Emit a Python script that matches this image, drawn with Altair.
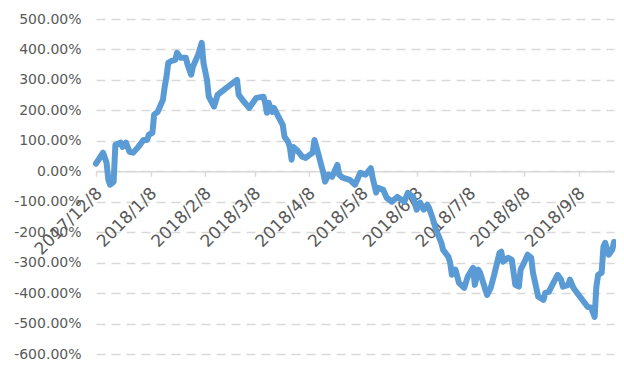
import altair as alt
import pandas as pd

dates = [
    "2017-12-08", "2017-12-12", "2017-12-14", "2017-12-15", "2017-12-16", "2017-12-18",
    "2017-12-19", "2017-12-22", "2017-12-23", "2017-12-25", "2017-12-27", "2017-12-29",
    "2018-01-01", "2018-01-04", "2018-01-06", "2018-01-07", "2018-01-09", "2018-01-10",
    "2018-01-12", "2018-01-15", "2018-01-16", "2018-01-17", "2018-01-18", "2018-01-20",
    "2018-01-22", "2018-01-23", "2018-01-25", "2018-01-28", "2018-01-29", "2018-01-31",
    "2018-02-01", "2018-02-04", "2018-02-06", "2018-02-07", "2018-02-09", "2018-02-10",
    "2018-02-13", "2018-02-15", "2018-02-20", "2018-02-26", "2018-02-27", "2018-03-02",
    "2018-03-05", "2018-03-07", "2018-03-09", "2018-03-13", "2018-03-14", "2018-03-15",
    "2018-03-16", "2018-03-18", "2018-03-19", "2018-03-21", "2018-03-24", "2018-03-25",
    "2018-03-27", "2018-03-28", "2018-03-29", "2018-03-30", "2018-04-01", "2018-04-04",
    "2018-04-06", "2018-04-10", "2018-04-11", "2018-04-13", "2018-04-16", "2018-04-17",
    "2018-04-19", "2018-04-21", "2018-04-24", "2018-04-25", "2018-04-27", "2018-05-01",
    "2018-05-04", "2018-05-07", "2018-05-10", "2018-05-13", "2018-05-14", "2018-05-16",
    "2018-05-17", "2018-05-20", "2018-05-22", "2018-05-25", "2018-05-28", "2018-06-01",
    "2018-06-03", "2018-06-06", "2018-06-08", "2018-06-10", "2018-06-12", "2018-06-14",
    "2018-06-15", "2018-06-17", "2018-06-19", "2018-06-22", "2018-06-23", "2018-06-26",
    "2018-06-27", "2018-06-28", "2018-06-30", "2018-07-02", "2018-07-05", "2018-07-07",
    "2018-07-10", "2018-07-11", "2018-07-13", "2018-07-14", "2018-07-17", "2018-07-18",
    "2018-07-20", "2018-07-22", "2018-07-25", "2018-07-26", "2018-07-27", "2018-07-30",
    "2018-08-01", "2018-08-03", "2018-08-05", "2018-08-06", "2018-08-08", "2018-08-10",
    "2018-08-12", "2018-08-13", "2018-08-16", "2018-08-19", "2018-08-20", "2018-08-22",
    "2018-08-24", "2018-08-27", "2018-08-29", "2018-08-30", "2018-09-02", "2018-09-03",
    "2018-09-05", "2018-09-07", "2018-09-10", "2018-09-13", "2018-09-15", "2018-09-17",
    "2018-09-18", "2018-09-19", "2018-09-21", "2018-09-22", "2018-09-23", "2018-09-25",
    "2018-09-27", "2018-09-28",
]

values = [
    0.25, 0.61, 0.28, -0.28, -0.44, -0.34,
    0.87, 0.94, 0.80, 0.94, 0.64, 0.61,
    0.80, 1.03, 1.03, 1.20, 1.26, 1.86,
    1.95, 2.35, 2.78, 3.10, 3.56, 3.63,
    3.66, 3.89, 3.73, 3.73, 3.50, 3.17,
    3.43, 3.83, 4.22, 3.56, 3.00, 2.45,
    2.12, 2.51, 2.74, 3.00, 2.51, 2.28,
    2.08, 2.25, 2.41, 2.45, 2.25, 1.92,
    2.25, 1.95, 2.08, 1.85, 1.52, 1.13,
    0.97, 0.80, 0.38, 0.80, 0.70, 0.48,
    0.44, 0.61, 1.03, 0.61, -0.05, -0.34,
    -0.11, -0.18, 0.21, -0.11, -0.21, -0.28,
    -0.44, -0.05, -0.11, 0.10, -0.21, -0.70,
    -0.54, -0.61, -0.87, -1.00, -0.84, -1.00,
    -0.71, -0.84, -1.26, -1.03, -1.26, -1.10,
    -1.20, -1.53, -1.92, -2.35, -2.58, -2.81,
    -3.00, -3.40, -3.23, -3.66, -3.83, -3.46,
    -3.17, -3.73, -3.23, -3.33, -3.89, -4.06,
    -3.83, -3.40, -2.68, -2.64, -2.97, -2.84,
    -2.91, -3.73, -3.79, -3.23, -3.00, -2.74,
    -2.84, -3.33, -4.12, -4.22, -3.99, -3.96,
    -3.73, -3.40, -3.56, -3.79, -3.73, -3.56,
    -3.83, -3.99, -4.22, -4.45, -4.48, -4.78,
    -3.79, -3.40, -3.33, -2.48, -2.35, -2.74,
    -2.58, -2.32,
]

tick_dates = [(2017, 12), (2018, 1), (2018, 2), (2018, 3), (2018, 4),
              (2018, 5), (2018, 6), (2018, 7), (2018, 8), (2018, 9)]
y_ticks = [-6, -5, -4, -3, -2, -1, 0, 1, 2, 3, 4, 5]

df = pd.DataFrame({"date": dates, "value": values})

W, H = 518, 335
y_min, y_max = -6, 5
zero_from_bottom = H * (0 - y_min) / (y_max - y_min)

FONT = "DejaVu Sans"
GREY = "#595959"
LINE = "#d9d9d9"

chart = alt.Chart(df).mark_line(
    color="#5B9BD5", strokeWidth=6, strokeJoin="round", strokeCap="round"
).encode(
    x=alt.X(
        "date:T",
        scale=alt.Scale(
            type="utc",
            domain=[alt.DateTime(year=2017, month=12, date=8, utc=True),
                    alt.DateTime(year=2018, month=9, date=28, utc=True)],
        ),
        axis=alt.Axis(
            title=None,
            values=[alt.DateTime(year=y, month=m, date=8, utc=True) for y, m in tick_dates],
            labelExpr="utcFormat(datum.value, '%Y/%-m/%-d')",
            labelAngle=-45,
            labelAlign="right",
            labelBaseline="middle",
            labelFont=FONT,
            labelFontSize=17,
            labelColor=GREY,
            labelPadding=14,
            labelOffset=3,
            labelOverlap=False,
            labelFlush=False,
            grid=False,
            domainColor=LINE,
            domainWidth=1.5,
            tickColor=LINE,
            tickWidth=1.5,
            tickSize=5,
            offset=-zero_from_bottom,
        ),
    ),
    y=alt.Y(
        "value:Q",
        scale=alt.Scale(domain=[y_min, y_max], nice=False, zero=False),
        axis=alt.Axis(
            title=None,
            values=y_ticks,
            labelExpr="replace(format(datum.value, '.2%'), '\u2212', '-')",
            labelFont=FONT,
            labelFontSize=14,
            labelColor=GREY,
            labelPadding=15,
            domain=False,
            ticks=False,
            grid=True,
            gridColor=LINE,
            gridWidth=1.5,
            gridDash=[9, 6],
        ),
    ),
).properties(
    width=W,
    height=H,
    autosize=alt.AutoSizeParams(type="none"),
    padding={"left": 88, "top": 11, "right": 2, "bottom": 10},
).configure_view(stroke=None)

chart.save("out.html", embed_options={"renderer": "svg", "actions": False})
